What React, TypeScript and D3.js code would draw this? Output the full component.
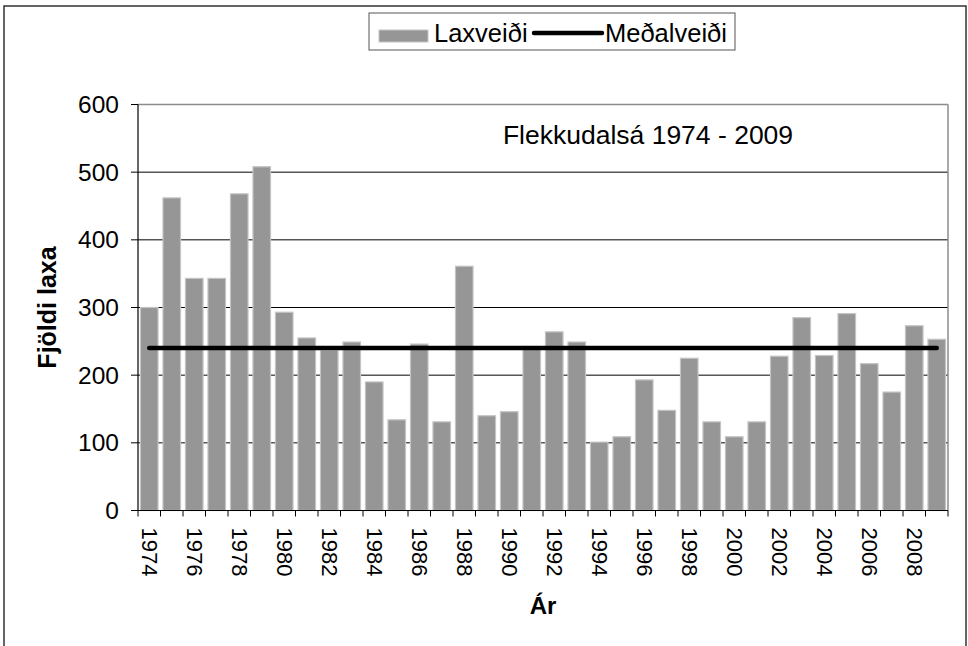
import React from "react";
import * as d3 from "d3";

const years: number[] = [
  1974, 1975, 1976, 1977, 1978, 1979, 1980, 1981, 1982, 1983, 1984, 1985,
  1986, 1987, 1988, 1989, 1990, 1991, 1992, 1993, 1994, 1995, 1996, 1997,
  1998, 1999, 2000, 2001, 2002, 2003, 2004, 2005, 2006, 2007, 2008, 2009,
];
const laxveidi: number[] = [
  300, 462, 343, 343, 468, 508, 293, 255, 237, 249, 190, 134,
  246, 131, 361, 140, 146, 238, 264, 249, 101, 109, 193, 148,
  225, 131, 109, 131, 228, 285, 229, 291, 217, 175, 273, 253,
];
const medalveidi: number[] = years.map(() => 240);
const yTicks: number[] = [0, 100, 200, 300, 400, 500, 600];
const xTickLabels: number[] = years.filter((y) => y % 2 === 0);

const W = 968;
const H = 646;
const FONT = "'Liberation Sans', Arial, Helvetica, sans-serif";

export default function App() {
  const left = 138;
  const right = 948;
  const top = 104.5;
  const bottom = 510.5;

  const x = d3
    .scaleBand<number>()
    .domain(years)
    .range([left, right])
    .paddingInner(0.22)
    .paddingOuter(0.11);
  const step = (right - left) / years.length;
  const y = d3.scaleLinear().domain([0, 600]).range([bottom, top]);

  const line = d3
    .line<number>()
    .x((_, i) => (x(years[i]) as number) + x.bandwidth() / 2)
    .y((d) => y(d));

  return (
    <svg
      width={W}
      height={H}
      style={{ position: "absolute", left: 0, top: 0, background: "#fff" }}
      fontFamily={FONT}
    >
      <rect x={0} y={0} width={W} height={H} fill="#fff" />
      {/* outer border */}
      <rect x={4} y={6} width={962} height={660} fill="none" stroke="#333" strokeWidth={1.5} />

      {/* gridlines */}
      {yTicks.slice(1, -1).map((t) => (
        <line key={t} x1={left} x2={right} y1={y(t)} y2={y(t)} stroke="#000" strokeWidth={1} />
      ))}
      {/* plot frame top & right */}
      <line x1={left} x2={right} y1={y(600)} y2={y(600)} stroke="#8c8c8c" strokeWidth={1.5} />
      <line x1={right} x2={right} y1={top} y2={bottom} stroke="#8c8c8c" strokeWidth={1.5} />

      {/* bars */}
      {laxveidi.map((v, i) => (
        <rect
          key={years[i]}
          x={x(years[i]) as number}
          y={y(v)}
          width={x.bandwidth()}
          height={bottom - y(v)}
          fill="#969696"
          stroke="#c4c4c4"
          strokeWidth={1.2}
        />
      ))}

      {/* mean line */}
      <path d={line(medalveidi) || ""} fill="none" stroke="#000" strokeWidth={4.5} strokeLinecap="round" />

      {/* axes */}
      <line x1={left} x2={left} y1={top} y2={bottom} stroke="#000" strokeWidth={1.2} />
      <line x1={left} x2={right} y1={bottom} y2={bottom} stroke="#000" strokeWidth={1.2} />
      {yTicks.map((t) => (
        <g key={t}>
          <line x1={left - 7} x2={left} y1={y(t)} y2={y(t)} stroke="#000" strokeWidth={1} />
          <text x={119} y={y(t)} dy="0.35em" textAnchor="end" fontSize={24.5} fill="#000">
            {t}
          </text>
        </g>
      ))}
      {d3.range(years.length + 1).map((i) => (
        <line
          key={i}
          x1={left + i * step}
          x2={left + i * step}
          y1={bottom}
          y2={bottom + 6}
          stroke="#000"
          strokeWidth={1}
        />
      ))}
      {xTickLabels.map((yr) => {
        const cx = (x(yr) as number) + x.bandwidth() / 2;
        return (
          <text
            key={yr}
            transform={`translate(${cx},${bottom + 17}) rotate(90)`}
            dy="0.35em"
            textAnchor="start"
            fontSize={22}
            fill="#000"
          >
            {yr}
          </text>
        );
      })}

      {/* axis titles */}
      <text x={(left + right) / 2} y={614} textAnchor="middle" fontSize={24} fontWeight="bold" fill="#000">
        Ár
      </text>
      <text
        transform={`translate(56,${(top + bottom) / 2}) rotate(-90)`}
        textAnchor="middle"
        fontSize={25}
        fontWeight="bold"
        fill="#000"
      >
        Fjöldi laxa
      </text>

      {/* inner title */}
      <text x={648} y={143.5} textAnchor="middle" fontSize={26.5} fill="#000">
        Flekkudalsá 1974 - 2009
      </text>

      {/* legend */}
      <rect x={369} y={13} width={366} height={37} fill="#fff" stroke="#555" strokeWidth={1} />
      <rect x={379} y={30} width={49} height={12} fill="#969696" stroke="#c4c4c4" strokeWidth={1} />
      <text x={434} y={41.5} fontSize={25.5} fill="#000">
        Laxveiði
      </text>
      <line x1={534} x2={602} y1={33} y2={33} stroke="#000" strokeWidth={4.5} strokeLinecap="round" />
      <text x={605} y={41.5} fontSize={25.5} fill="#000">
        Meðalveiði
      </text>
    </svg>
  );
}
